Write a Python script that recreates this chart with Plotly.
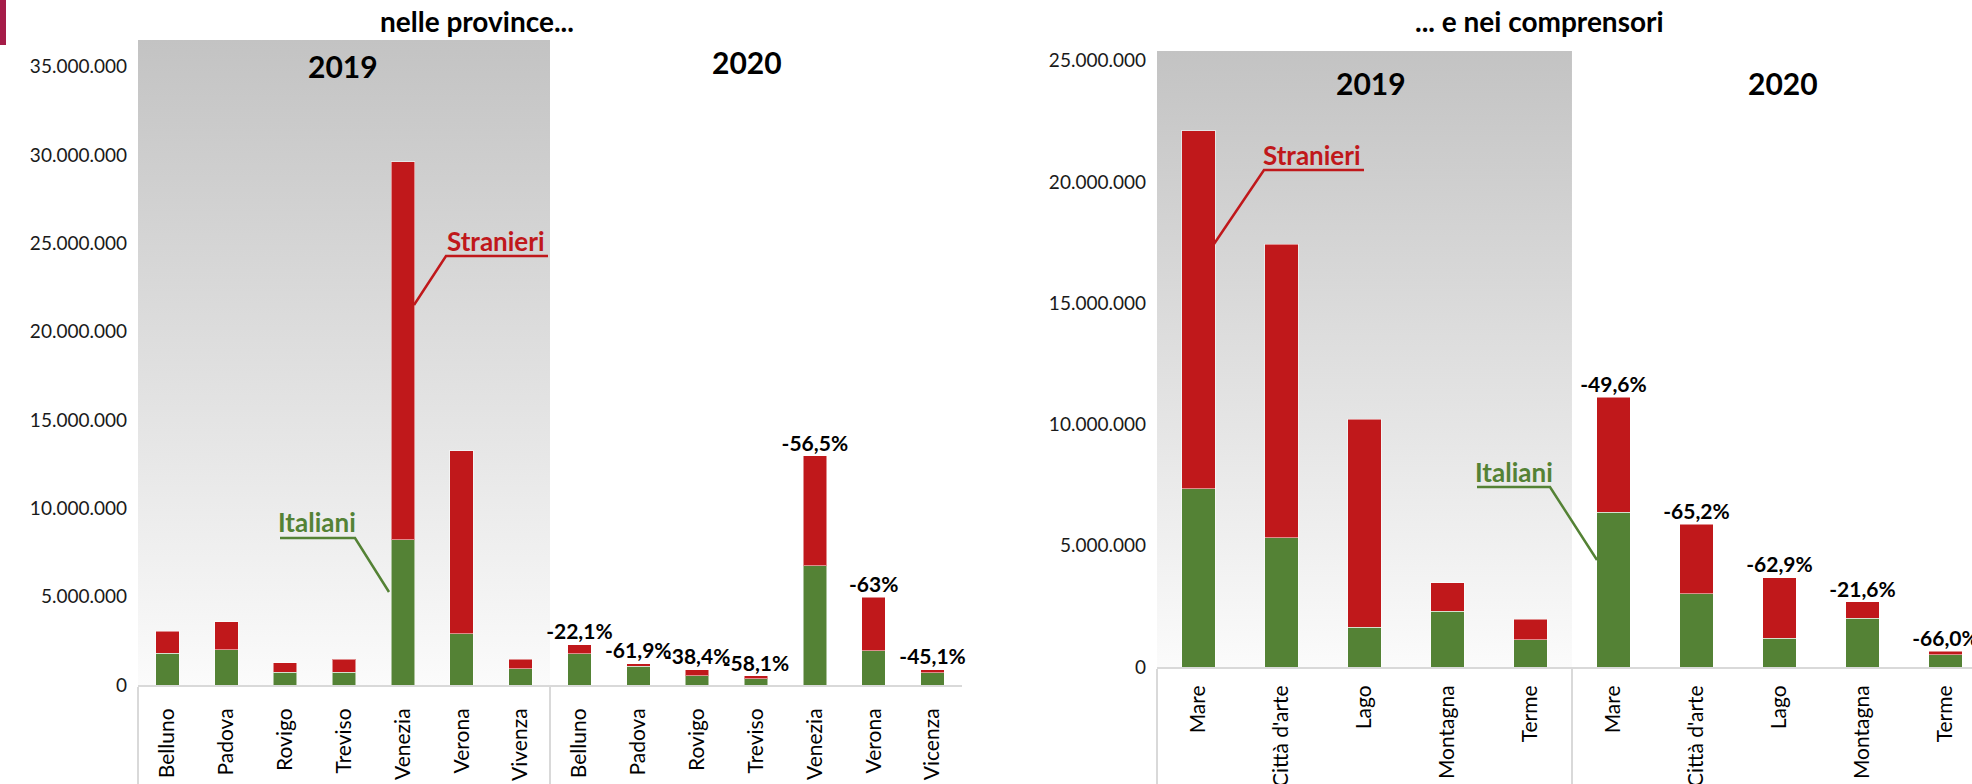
import base64
import plotly.graph_objects as go

W, H = 1972, 784

# ---------------- data ----------------
years = ["2019", "2020"]
prov_2019 = ["Belluno", "Padova", "Rovigo", "Treviso", "Venezia", "Verona", "Vivenza"]
prov_2020 = ["Belluno", "Padova", "Rovigo", "Treviso", "Venezia", "Verona", "Vicenza"]
prov_ita_2019 = [1810000, 2000000, 720000, 720000, 8230000, 2890000, 910000]
prov_str_2019 = [1230000, 1570000, 550000, 740000, 21370000, 10360000, 550000]
prov_ita_2020 = [1760000, 1060000, 530000, 340000, 6760000, 1930000, 700000]
prov_str_2020 = [530000, 150000, 340000, 170000, 6210000, 3030000, 170000]
prov_var_2020 = ["-22,1%", "-61,9%", "-38,4%", "-58,1%", "-56,5%", "-63%", "-45,1%"]

comp_2019 = ["Mare", "Città d'arte", "Lago", "Montagna", "Terme"]
comp_2020 = ["Mare", "Città d'arte", "Lago", "Montagna", "Terme"]
comp_ita_2019 = [7340000, 5320000, 1630000, 2300000, 1130000]
comp_str_2019 = [14780000, 12120000, 8580000, 1170000, 830000]
comp_ita_2020 = [6390000, 3020000, 1180000, 2010000, 500000]
comp_str_2020 = [4730000, 2860000, 2510000, 680000, 150000]
comp_var_2020 = ["-49,6%", "-65,2%", "-62,9%", "-21,6%", "-66,0%"]

titles = ["nelle province...", "... e nei comprensori"]
series_names = ["Italiani", "Stranieri"]

# ---------------- style ----------------
GREEN = "#548235"
RED = "#c0181b"
FONT = "Lato"
AXIS_GREY = "#d9d9d9"


def px(x):
    return x / W


def py(y):
    return 1 - y / H


# plot-area geometry (pixels)
L = dict(x0=138, x1=962, y0=40, y1=685)
R = dict(x0=1157, x1=1972, y0=51, y1=667)
L_range_x = [-0.5, 13.5]
R_range_x = [-0.5, 9.32]
L_range_y = [0, 36.5e6]
R_range_y = [0, 25.4e6]

fig = go.Figure()


def add_chart(xa, ya, outer_a, inner_a, ita_a, str_a, outer_b, inner_b, ita_b, str_b, var_b):
    xs = [[outer_a] * len(inner_a) + [outer_b] * len(inner_b), list(inner_a) + list(inner_b)]
    fig.add_trace(go.Bar(x=xs, y=list(ita_a) + list(ita_b), name=series_names[0],
                         marker=dict(color=GREEN, line=dict(color="rgba(255,255,255,0.5)", width=1)),
                         xaxis=xa, yaxis=ya, showlegend=False))
    fig.add_trace(go.Bar(x=xs, y=list(str_a) + list(str_b), name=series_names[1],
                         marker=dict(color=RED, line=dict(color="rgba(255,255,255,0.5)", width=1)),
                         xaxis=xa, yaxis=ya, showlegend=False))
    tot_b = [a + b for a, b in zip(ita_b, str_b)]
    fig.add_trace(go.Scatter(x=[[outer_b] * len(inner_b), list(inner_b)], y=tot_b,
                             mode="text", text=var_b, texttemplate="<b>%{text}</b>",
                             textposition="top center", cliponaxis=False,
                             textfont=dict(family=FONT, size=21, color="black"),
                             xaxis=xa, yaxis=ya, showlegend=False, hoverinfo="skip"))


add_chart("x", "y", years[0], prov_2019, prov_ita_2019, prov_str_2019,
          years[1], prov_2020, prov_ita_2020, prov_str_2020, prov_var_2020)
add_chart("x2", "y2", years[0], comp_2019, comp_ita_2019, comp_str_2019,
          years[1], comp_2020, comp_ita_2020, comp_str_2020, comp_var_2020)

xaxis_common = dict(type="multicategory", showline=True, linecolor=AXIS_GREY, linewidth=2,
                    showgrid=False, zeroline=False, ticks="", tickangle=-90,
                    showdividers=True, dividercolor=AXIS_GREY, dividerwidth=2,
                    tickfont=dict(family=FONT, size=21, color="black"), automargin=False)
yaxis_common = dict(showline=False, showgrid=False, zeroline=False, ticks="",
                    tickformat=",d", dtick=5e6, tick0=0,
                    tickfont=dict(family=FONT, size=19, color="#1a1a1a"), automargin=False,
                    ticklabelstandoff=10)

fig.update_layout(
    width=W, height=H, template="none", separators=",.",
    margin=dict(l=0, r=0, t=0, b=0, pad=0),
    paper_bgcolor="white", plot_bgcolor="rgba(0,0,0,0)",
    barmode="stack", bargap=0.6, showlegend=False,
    xaxis=dict(xaxis_common, domain=[px(L["x0"]), px(L["x1"])], range=L_range_x, anchor="y",
               ticklabelstandoff=13),
    yaxis=dict(yaxis_common, domain=[py(L["y1"]), py(L["y0"])], range=L_range_y, anchor="x"),
    xaxis2=dict(xaxis_common, domain=[px(R["x0"]), px(R["x1"])], range=R_range_x, anchor="y2",
                ticklabelstandoff=8),
    yaxis2=dict(yaxis_common, domain=[py(R["y1"]), py(R["y0"])], range=R_range_y, anchor="x2"),
)

# gradient backgrounds for the 2019 groups
svg = ('<svg xmlns="http://www.w3.org/2000/svg" width="10" height="200" preserveAspectRatio="none">'
       '<defs><linearGradient id="g" x1="0" y1="0" x2="0" y2="1">'
       '<stop offset="0" stop-color="#c3c3c3"/><stop offset="1" stop-color="#fbfbfb"/>'
       '</linearGradient></defs><rect width="10" height="200" fill="url(#g)"/></svg>')
src = "data:image/svg+xml;base64," + base64.b64encode(svg.encode()).decode()


def group_px(g, rng, frac_end):
    # pixel x of category boundary
    return g["x0"] + (frac_end - rng[0]) / (rng[1] - rng[0]) * (g["x1"] - g["x0"])


images = []
for g, rng, n_first in [(L, L_range_x, len(prov_2019)), (R, R_range_x, len(comp_2019))]:
    xe = group_px(g, rng, n_first - 0.5)
    images.append(dict(source=src, xref="paper", yref="paper", x=px(g["x0"]), y=py(g["y0"]),
                       sizex=px(xe - g["x0"]), sizey=(g["y1"] - g["y0"]) / H,
                       xanchor="left", yanchor="top", sizing="stretch", layer="below"))
fig.update_layout(images=images)

annotations = []


def add_text(text, x, y, size, color="black"):
    annotations.append(dict(text="<b>" + text + "</b>", x=px(x), y=py(y), xref="paper", yref="paper",
                            xanchor="center", yanchor="middle", showarrow=False,
                            font=dict(family=FONT, size=size, color=color)))


# titles
add_text(titles[0], 477, 21, 28)
add_text(titles[1], 1539, 21, 28)
# year labels
for xx, yy, t in [(343, 66, years[0]), (747, 62, years[1]), (1371, 83, years[0]), (1783, 83, years[1])]:
    add_text(t, xx, yy, 30)
# callouts
callouts = [
    (series_names[1], RED, (496, 241), [(548, 256), (446, 256), (414, 305)]),
    (series_names[0], GREEN, (317, 522), [(280, 538), (355, 538), (389, 592)]),
    (series_names[1], RED, (1312, 155), [(1364, 170), (1264, 170), (1214, 244)]),
    (series_names[0], GREEN, (1514, 472), [(1477, 487), (1550, 487), (1597, 560)]),
]
shapes = []
for name, col, (tx, ty), pts in callouts:
    add_text(name, tx, ty, 26, col)
    path = "M " + " L ".join(f"{px(a):.5f},{py(b):.5f}" for a, b in pts)
    shapes.append(dict(type="path", path=path, xref="paper", yref="paper",
                       line=dict(color=col, width=2.5)))
# small crimson mark top-left
shapes.append(dict(type="rect", xref="paper", yref="paper", x0=0, x1=px(6), y0=py(45), y1=1,
                   fillcolor="#a51c48", line=dict(width=0)))
fig.update_layout(annotations=annotations, shapes=shapes)

fig.write_html("out.html")
